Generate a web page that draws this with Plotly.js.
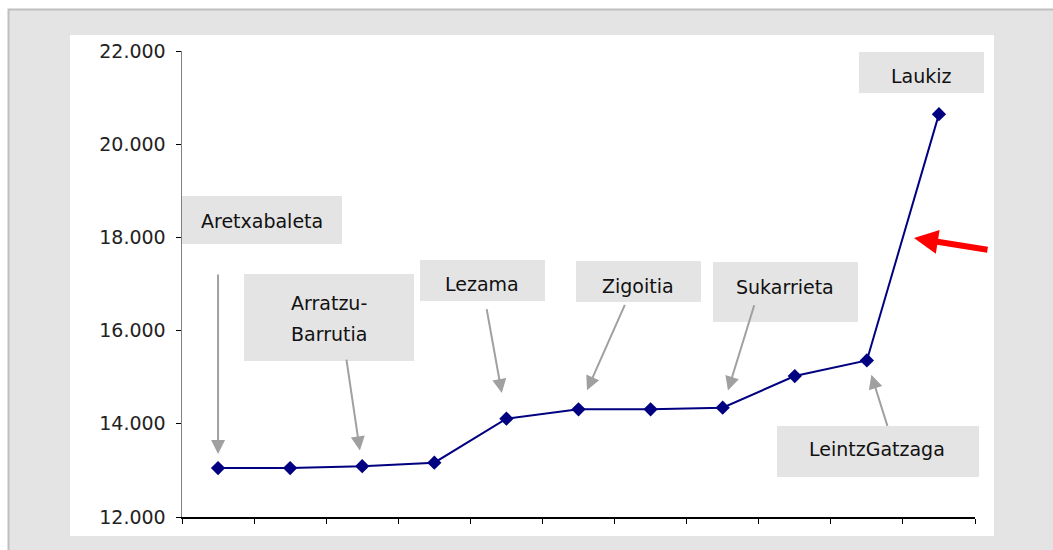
<!DOCTYPE html>
<html>
<head>
<meta charset="utf-8">
<script src="https://cdn.plot.ly/plotly-3.0.1.min.js"></script>
<style>
  html, body { margin: 0; padding: 0; background: #ffffff; }
  #chart { width: 1053px; height: 550px; }
</style>
</head>
<body>
<div id="chart"></div>
<script>
// Municipal values, ordered from lowest to highest
const positions = [0, 1, 2, 3, 4, 5, 6, 7, 8, 9, 10];
const values = [13050, 13050, 13090, 13165, 14110, 14310, 14310, 14345, 15025, 15360, 20645];

// Named municipalities and the point each one refers to
const labelNames = ['Aretxabaleta', 'Arratzu-<br>Barrutia', 'Lezama', 'Zigoitia', 'Sukarrieta', 'LeintzGatzaga', 'Laukiz'];
const labelPoint = [0, 2, 4, 5, 7, 9, 10];

// Y axis ticks
const yTicks = [12000, 14000, 16000, 18000, 20000, 22000];

// ---- layout geometry (pixels) ----
const W = 1053, H = 550;
const L = 182, R = 975, T = 51, B = 517;
const fx = p => (p - L) / (R - L);
const fy = p => (B - p) / (B - T);

// label boxes: [left, top, right, bottom], text centre [x, y]
const boxes = [
  {box: [182, 196, 342, 244], c: [262, 221]},
  {box: [244, 274, 414, 361], c: [329, 318]},
  {box: [420, 260, 545, 301], c: [482, 284]},
  {box: [576, 261, 701, 302], c: [638, 286]},
  {box: [713, 262, 858, 322], c: [785, 287]},
  {box: [777, 426, 979, 477], c: [877, 449]},
  {box: [859, 52, 984, 93],   c: [921, 76]}
];
// pointer arrows: tail offset from the point (px) and gap before the point
const pointers = [
  {ax: 0,   ay: -195, gap: 14},
  {ax: -16, ay: -108, gap: 16},
  {ax: -20, ay: -111, gap: 26},
  {ax: 47,  ay: -106, gap: 21},
  {ax: 32,  ay: -104, gap: 18},
  {ax: 21,  ay: 67,   gap: 15},
  null
];

const shapes = [
  // grey frame
  {type: 'rect', xref: 'paper', yref: 'paper', layer: 'below',
   x0: fx(8.5), x1: fx(1070), y0: fy(9.5), y1: fy(570),
   fillcolor: '#e4e4e4', line: {color: '#bfbfbf', width: 2}},
  // white chart panel
  {type: 'rect', xref: 'paper', yref: 'paper', layer: 'below',
   x0: fx(70), x1: fx(994), y0: fy(35), y1: fy(536),
   fillcolor: '#ffffff', line: {width: 0}}
];

const annotations = [];
const labelFont = {family: 'Comic Sans MS, "DejaVu Sans", sans-serif', size: 19, color: '#111111'};

labelNames.forEach((name, i) => {
  const b = boxes[i];
  shapes.push({type: 'rect', xref: 'paper', yref: 'paper', layer: 'below',
    x0: fx(b.box[0]), x1: fx(b.box[2]), y0: fy(b.box[1]), y1: fy(b.box[3]),
    fillcolor: '#e4e4e4', line: {width: 0}});
  const lines = name.split('<br>');
  const pitch = 31;
  lines.forEach((ln, k) => {
    const cy = b.c[1] + (k - (lines.length - 1) / 2) * pitch;
    annotations.push({xref: 'paper', yref: 'paper', x: fx(b.c[0]), y: fy(cy),
      xanchor: 'center', yanchor: 'middle', text: ln, showarrow: false, font: labelFont});
  });
  const p = pointers[i];
  if (p) {
    const idx = labelPoint[i];
    annotations.push({xref: 'x', yref: 'y', x: positions[idx], y: values[idx],
      ax: p.ax, ay: p.ay, text: '', showarrow: true,
      arrowhead: 2, arrowsize: 1.4, arrowwidth: 2, arrowcolor: '#a0a0a0', standoff: p.gap});
  }
});

// red pointer toward the final jump
annotations.push({xref: 'paper', yref: 'paper', x: fx(914), y: fy(238),
  ax: 75, ay: 12, text: '', showarrow: true,
  arrowhead: 2, arrowsize: 0.8, arrowwidth: 6, arrowcolor: '#ff0000'});

const trace = {
  x: positions, y: values, type: 'scatter', mode: 'lines+markers',
  line: {color: '#000080', width: 2},
  marker: {symbol: 'diamond', size: 11, color: '#000080'},
  hoverinfo: 'y'
};

const layout = {
  width: W, height: H,
  margin: {l: L, r: W - R, t: T, b: H - B, pad: 0},
  paper_bgcolor: '#ffffff',
  plot_bgcolor: 'rgba(0,0,0,0)',
  showlegend: false,
  separators: ',.',
  xaxis: {
    range: [-0.5, 10.5], showgrid: false, zeroline: false,
    tickmode: 'linear', tick0: -0.5, dtick: 1, showticklabels: false,
    ticks: 'outside', ticklen: 5, tickcolor: '#000000', tickwidth: 1,
    showline: true, linecolor: '#000000', linewidth: 1.5
  },
  yaxis: {
    range: [12000, 22000], showgrid: false, zeroline: false,
    tickmode: 'array', tickvals: yTicks, tickformat: ',d',
    ticks: 'outside', ticklen: 5, tickcolor: '#000000', tickwidth: 1,
    showline: true, linecolor: '#808080', linewidth: 1.5,
    ticklabelstandoff: 6,
    tickfont: {family: '"DejaVu Sans", sans-serif', size: 19, color: '#222222'}
  },
  shapes: shapes,
  annotations: annotations
};

Plotly.newPlot('chart', [trace], layout, {displayModeBar: false, staticPlot: true});
</script>
</body>
</html>
